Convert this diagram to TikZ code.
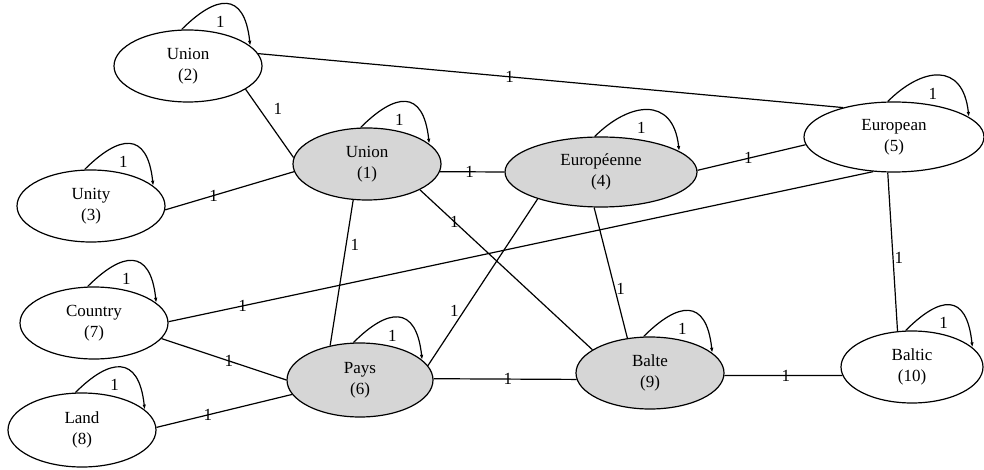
\documentclass[tikz,border=0pt]{standalone}
\usepackage{fontspec}
\setmainfont{Liberation Serif}
\usetikzlibrary{arrows.meta, shapes.geometric}
\definecolor{sharedgray}{HTML}{D6D6D6}

\begin{document}
\begin{tikzpicture}[x=1pt, y=-1pt, line width=1.2pt,
  every node/.style = {font=\fontsize{17}{21}\selectfont},
  word/.style   = {ellipse, draw, fill=white, inner sep=0pt, align=center,
                   minimum width=148pt, minimum height=72pt},
  shared/.style = {word, fill=sharedgray},
  weight/.style = {inner sep=1pt},
  selfloop/.style = {-{Latex[length=5pt,width=3.5pt]}}
  ]
  \useasboundingbox (0,0) rectangle (984,470);

  % words
  \node[shared] (union1) at (367,164) {Union\\(1)};
  \node[word] (union2) at (188,66) {Union\\(2)};
  \node[word] (unity) at (91,206) {Unity\\(3)};
  \node[shared, minimum width=192pt, minimum height=70pt] (europeenne) at (601,172) {Européenne\\(4)};
  \node[word, minimum width=180pt, minimum height=70pt] (european) at (894,137) {European\\(5)};
  \node[shared, minimum width=146pt, minimum height=74pt] (pays) at (360,380) {Pays\\(6)};
  \node[word] (country) at (94,323) {Country\\(7)};
  \node[word, minimum height=74pt] (land) at (82,430) {Land\\(8)};
  \node[shared] (balte) at (650,373) {Balte\\(9)};
  \node[word, minimum width=142pt] (baltic) at (912,367) {Baltic\\(10)};

  % links
  \draw (union2.10) -- node[weight, pos=.43] {1} (european.150);
  \draw (union2.-22) -- node[weight, pos=.28, right=13pt] {1} (union1.175);
  \draw (unity.-3) -- node[weight, pos=.375] {1} (union1.-174);
  \draw (union1.-6) -- node[weight, pos=.46] {1} (europeenne.180);
  \draw (union1.-26) -- node[weight, pos=.2] {1} (balte.158);
  \draw (union1.-111) -- node[weight, pos=.31, right=3pt] {1} (pays.131);
  \draw (europeenne.-157) -- node[weight, pos=.67, left=4pt] {1} (pays.12);
  \draw (europeenne.-101) -- node[weight, pos=.62, right=0pt] {1} (balte.123);
  \draw (europeenne.1) -- node[weight, pos=.47] {1} (european.-175);
  \draw (european.-121) -- node[weight, pos=.895] {1} (country.1);
  \draw (european.-100) -- node[weight, pos=.54, right=0pt] {1} (baltic.112);
  \draw (country.-13) -- node[weight, pos=.54] {1} (pays.180);
  \draw (land.2) -- node[weight, pos=.38] {1} (pays.-168);
  \draw (pays.1) -- node[weight, pos=.52] {1} (balte.-175);
  \draw (balte.-2) -- node[weight, pos=.52] {1} (baltic.-173);

  % self loops
  \foreach \w/\a in {union1/18, union2/18, unity/18, europeenne/15, european/15,
                     pays/18, country/18, land/18, balte/18, baltic/18}
    \draw[selfloop] (\w.100) .. controls +(34,-34) and +(-6,-56) .. (\w.\a)
      node[weight, pos=.5, xshift=-6pt, yshift=-18pt] {1};
\end{tikzpicture}
\end{document}
